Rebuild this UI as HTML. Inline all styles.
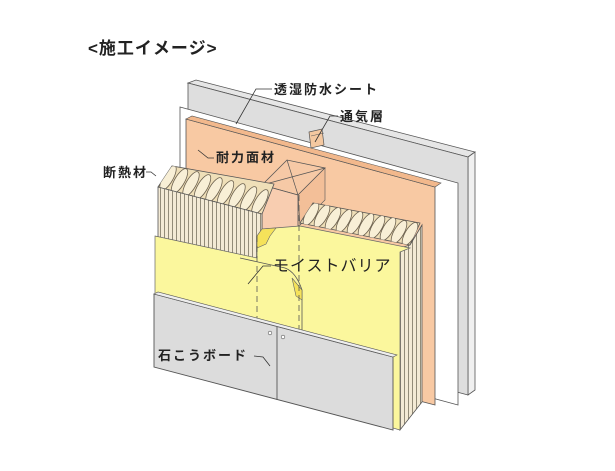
<!DOCTYPE html>
<html><head><meta charset="utf-8"><style>
body{margin:0;background:#fff;width:615px;height:466px;overflow:hidden}
text{font-family:"Liberation Sans","Noto Sans CJK JP",sans-serif;fill:#222}
</style></head><body>
<svg width="615" height="466" viewBox="0 0 615 466" xmlns="http://www.w3.org/2000/svg">
<defs>
<pattern id="vs" width="4" height="10" patternUnits="userSpaceOnUse">
<rect width="4" height="10" fill="#f3ead5"/><line x1="0.5" y1="0" x2="0.5" y2="10" stroke="#7a7360" stroke-width="0.8"/>
</pattern>
<clipPath id="cl"><polygon points="158,187 172,166 274,184 262,214"/></clipPath>
<clipPath id="cr"><polygon points="300,223 313,203 420,223 410,245"/></clipPath>
</defs>
<text x="88" y="54" font-size="17" font-weight="bold" letter-spacing="1">&lt;施工イメージ&gt;</text>

<!-- gray sheet -->
<polygon points="188,83 196,80 475,152 468,157" fill="#e6e6e6" stroke="#555" stroke-width="0.8"/>
<polygon points="468,157 475,152 475,390 468,395" fill="#f0f0f0" stroke="#555" stroke-width="0.8"/>
<polygon points="188,83 468,157 468,395 188,320" fill="#dedede" stroke="#555" stroke-width="0.8"/>
<!-- white sheet -->
<polygon points="180,107 458,183 458,405 180,330" fill="#fff" stroke="#555" stroke-width="0.8"/>
<!-- batten -->
<polygon points="309,132 322,129 324,145 311,148" fill="#f4c8a0" stroke="#555" stroke-width="0.7"/>
<line x1="311" y1="136" x2="324" y2="133" stroke="#555" stroke-width="0.5"/>
<!-- orange panel -->
<polygon points="186,119 435,187 435,405 186,340" fill="#f8c9a3" stroke="#555" stroke-width="0.8"/>
<polygon points="186,119 192,116 441,183 435,187" fill="#f2b88c" stroke="#555" stroke-width="0.6"/>

<!-- stud -->
<polygon points="262,185 287,160 325,168 298,195" fill="#f6c9a6" stroke="#555" stroke-width="0.8"/>
<line x1="262" y1="185" x2="325" y2="168" stroke="#555" stroke-width="0.7"/>
<line x1="287" y1="160" x2="298" y2="195" stroke="#555" stroke-width="0.7"/>
<polygon points="262,185 298,195 298,260 262,250" fill="#f8cdb0" stroke="#555" stroke-width="0.8"/>
<polygon points="298,195 325,168 325,200 300,225" fill="#f3bf98" stroke="#555" stroke-width="0.6"/>

<!-- left insulation -->
<polygon points="158,187 172,166 274,184 262,214" fill="#efdfb8" stroke="#555" stroke-width="0.8"/>
<g clip-path="url(#cl)" fill="#f8efd6" stroke="#6d6250" stroke-width="0.8">
<ellipse cx="168" cy="178" rx="14" ry="5" transform="rotate(-60 168 178)"/>
<ellipse cx="179.5" cy="181" rx="14" ry="5" transform="rotate(-60 179.5 181)"/>
<ellipse cx="191" cy="184" rx="14" ry="5" transform="rotate(-60 191 184)"/>
<ellipse cx="202.5" cy="187" rx="14" ry="5" transform="rotate(-60 202.5 187)"/>
<ellipse cx="214" cy="190" rx="14" ry="5" transform="rotate(-60 214 190)"/>
<ellipse cx="225.5" cy="193" rx="14" ry="5" transform="rotate(-60 225.5 193)"/>
<ellipse cx="237" cy="196" rx="14" ry="5" transform="rotate(-60 237 196)"/>
<ellipse cx="248.5" cy="199" rx="14" ry="5" transform="rotate(-60 248.5 199)"/>
<ellipse cx="260" cy="202" rx="14" ry="5" transform="rotate(-60 260 202)"/>
</g>
<polygon points="158,187 262,214 262,265 158,240" fill="url(#vs)" stroke="#555" stroke-width="0.8"/>
<!-- right insulation -->
<polygon points="300,223 313,203 420,223 410,245" fill="#efdfb8" stroke="#555" stroke-width="0.8"/>
<g clip-path="url(#cr)" fill="#f8efd6" stroke="#6d6250" stroke-width="0.8">
<ellipse cx="311" cy="214" rx="13" ry="5" transform="rotate(-60 311 214)"/>
<ellipse cx="322" cy="216" rx="13" ry="5" transform="rotate(-60 322 216)"/>
<ellipse cx="333" cy="219" rx="13" ry="5" transform="rotate(-60 333 219)"/>
<ellipse cx="344" cy="221" rx="13" ry="5" transform="rotate(-60 344 221)"/>
<ellipse cx="355" cy="223" rx="13" ry="5" transform="rotate(-60 355 223)"/>
<ellipse cx="366" cy="225" rx="13" ry="5" transform="rotate(-60 366 225)"/>
<ellipse cx="377" cy="227" rx="13" ry="5" transform="rotate(-60 377 227)"/>
<ellipse cx="388" cy="229" rx="13" ry="5" transform="rotate(-60 388 229)"/>
<ellipse cx="399" cy="232" rx="13" ry="5" transform="rotate(-60 399 232)"/>
<ellipse cx="410" cy="234" rx="13" ry="5" transform="rotate(-60 410 234)"/>
</g>
<polygon points="400,248 410,245 422,225 422,402 400,430" fill="url(#vs)" stroke="#555" stroke-width="0.8"/>

<!-- yellow barrier -->
<polygon points="155,236 257,258 257,236 262,229 300,226 410,248 400,252 400,430 155,360" fill="#fbf79d" stroke="#666" stroke-width="0.7"/>
<polygon points="257,236 262,229 276,228 270,236 266,244 257,248" fill="#f5e25a" stroke="#666" stroke-width="0.6"/>
<path d="M240,258 L285,268 Q296,272 302,290 L302,330" fill="none" stroke="#555" stroke-width="0.8"/>
<polygon points="292,278 302,290 302,300 296,296" fill="#f5e25a" stroke="#666" stroke-width="0.6"/>
<line x1="257" y1="236" x2="257" y2="330" stroke="#555" stroke-width="0.8" stroke-dasharray="6,4"/>
<line x1="299" y1="195" x2="299" y2="330" stroke="#555" stroke-width="0.8" stroke-dasharray="6,4"/>

<!-- gypsum board -->
<polygon points="154,294 393,357 393,430 154,367" fill="#dcdcdc" stroke="#555" stroke-width="0.9"/>
<polygon points="154,294 158,292 397,355 393,357" fill="#eee" stroke="#555" stroke-width="0.6"/>
<line x1="277" y1="327" x2="277" y2="400" stroke="#555" stroke-width="0.9"/>
<circle cx="270" cy="333" r="1.8" fill="#fff" stroke="#555" stroke-width="0.6"/>
<circle cx="283" cy="337" r="1.8" fill="#fff" stroke="#555" stroke-width="0.6"/>

<!-- leaders -->
<g fill="none" stroke="#333" stroke-width="0.8">
<path d="M272,89 L256,89 L236,124"/>
<path d="M338,116 L330,116 L315,142"/>
<path d="M198,150 L208,158 L214,158"/>
<path d="M146,172 L151,172 L156,176"/>
<path d="M271,266 L263,266 L248,284"/>
<path d="M254,356 L263,357 L270,366"/>
</g>
<g font-size="13" font-weight="bold" letter-spacing="2">
<text x="274" y="94">透湿防水シート</text>
<text x="340" y="121">通気層</text>
<text x="216" y="162">耐力面材</text>
<text x="103" y="177">断熱材</text>
<text x="273" y="271" font-size="16" font-weight="normal" letter-spacing="1">モイストバリア</text>
<text x="158" y="360">石こうボード</text>
</g>
</svg>
</body></html>
